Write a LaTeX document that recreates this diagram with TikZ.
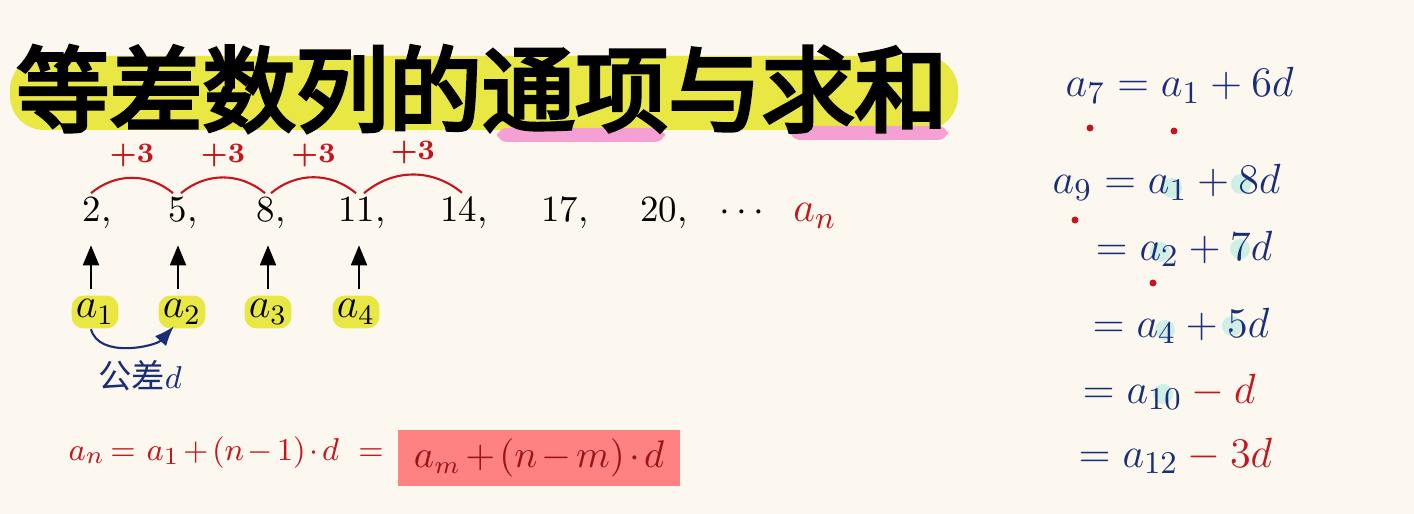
\documentclass[tikz,border=0pt]{standalone}
\usepackage{fontspec}
\usepackage{amsmath}
\usetikzlibrary{arrows.meta,positioning,calc}
\newfontfamily\cjktitle[FakeBold=4]{Noto Sans CJK SC}
\newfontfamily\cjk{Noto Sans CJK SC}
\definecolor{Paper}{HTML}{FDF8EF}
\definecolor{Hl}{HTML}{E9E743}
\definecolor{Pink}{HTML}{F4A0D2}
\definecolor{Ink}{HTML}{C4161C}
\definecolor{Navy}{HTML}{1A2E78}
\definecolor{Boxred}{HTML}{FF8282}
\definecolor{Teal}{HTML}{CDEFE6}
\newcommand{\tightmath}{\thickmuskip=3mu\medmuskip=2mu}
\tikzset{
seqnum/.style={font=\fontsize{10.5}{12}\selectfont, anchor=base, inner sep=1pt},
termbox/.style={fill=Hl, rounded corners=1.2mm, inner sep=1.2pt, font=\fontsize{12}{14}\selectfont},
diffarc/.style={draw=Ink, semithick},
difflabel/.style={text=Ink, font=\fontsize{8}{10}\selectfont\bfseries, inner sep=1pt},
uparrow/.style={-{Triangle[length=2mm,width=1.6mm]}, semithick, draw=black},
eqline/.style={text=Navy, anchor=base west, font=\fontsize{13}{15}\selectfont, inner sep=0pt},
redeq/.style={text=Ink, anchor=base west, font=\fontsize{9.4}{12}\selectfont\tightmath, inner sep=0pt}
}
\begin{document}
\begin{tikzpicture}[x=0.1mm, y=-0.1mm, >=Latex]
  \fill[Paper] (0,0) rectangle (1414,514);
  \useasboundingbox (0,0) rectangle (1414,514);
  % title
  \fill[Hl, rounded corners=3.4mm] (10,56) rectangle (958,130);
  \fill[Pink, rounded corners=1mm] (497,128) rectangle (665,142);
  \fill[Pink, rounded corners=1mm] (790,126) rectangle (948,140);
  \node[inner sep=0pt, font=\fontsize{26.5}{30}\selectfont\cjktitle] (title) at (482,89) {等差数列的通项与求和};
  % sequence
  \node[seqnum] (n1) at (97,222) {2,};
  \node[seqnum] (n2) at (183,222) {5,};
  \node[seqnum] (n3) at (271,222) {8,};
  \node[seqnum] (n4) at (362,222) {11,};
  \node[seqnum] (n5) at (464,222) {14,};
  \node[seqnum] (n6) at (565,222) {17,};
  \node[seqnum] (n7) at (664,222) {20,};
  \node[seqnum] (dots) at (745,222) {$\cdots$};
  \node[seqnum, text=Ink, font=\fontsize{13}{15}\selectfont] (an) at (815,222) {$a_n$};
  \draw[diffarc] ([xshift=-0.6mm]n1.north) to[bend left=40] node[difflabel, above=0.6mm] (p1) {+3} ([xshift=-1mm]n2.north);
  \draw[diffarc] ([xshift=-0.2mm]n2.north) to[bend left=40] node[difflabel, above=0.6mm] (p2) {+3} ([xshift=-0.6mm]n3.north);
  \draw[diffarc] ([xshift=0mm]n3.north) to[bend left=40] node[difflabel, above=0.6mm] (p3) {+3} ([xshift=-0.6mm]n4.north);
  \draw[diffarc] ([xshift=0.2mm]n4.north) to[bend left=40] node[difflabel, above=0.6mm] (p4) {+3} ([xshift=-0.2mm]n5.north);
  % terms
  \node[termbox] (a1) at (95,312) {$a_1$};
  \node[termbox] (a2) at (182,312) {$a_2$};
  \node[termbox] (a3) at (268,312) {$a_3$};
  \node[termbox] (a4) at (356,312) {$a_4$};
  \draw[uparrow] ([xshift=-0.4mm,yshift=0.6mm]a1.north) -- ([xshift=-0.4mm,yshift=-1.2mm]a1.north |- n1.south);
  \draw[uparrow] ([xshift=-0.4mm,yshift=0.6mm]a2.north) -- ([xshift=-0.4mm,yshift=-1.2mm]a2.north |- n2.south);
  \draw[uparrow] ([yshift=0.6mm]a3.north) -- ([yshift=-1.2mm]a3.north |- n3.south);
  \draw[uparrow] ([xshift=0.3mm,yshift=0.6mm]a4.north) -- ([xshift=0.3mm,yshift=-1.2mm]a4.north |- n4.south);
  \draw[->, semithick, draw=Navy] ([xshift=-0.4mm]a1.south) .. controls +(0.8mm,-3mm) and +(-1.8mm,-2mm) .. ([xshift=-0.8mm,yshift=0.3mm]a2.south);
  \node[text=Navy, font=\fontsize{9.5}{11}\selectfont] (gap) at (140,376) {{\cjk 公差}$d$};
  % general term
  \node[redeq] (formula) at (68,460) {$a_n = \; a_1 + (n-1)\cdot d$};
  \node[redeq] (eqsign) at ([xshift=1.8mm]formula.base east) {$=$};
  \node[fill=Boxred, minimum width=28.2mm, minimum height=5.6mm, inner sep=0pt, text=Ink!80!black, font=\fontsize{10.5}{12}\selectfont\tightmath] (general) at (539,458) {$a_m + (n-m)\cdot d$};
  % right column
  \foreach \cx/\cy in {1172/188, 1241/184, 1160/252, 1240/249, 1165/330, 1232/326, 1163/394}
    \fill[Teal] (\cx,\cy) circle (10);
  \node[eqline] (e1) at (1065,97) {$a_7 = a_1 + 6d$};
  \node[eqline] (e2) at (1052,194) {$a_9 = a_1 + 8d$};
  \node[eqline] (e3) at (1095,260) {$= a_2 + 7d$};
  \node[eqline] (e4) at (1092,337) {$= a_4 + 5d$};
  \node[eqline] (e5) at (1082,403) {$= a_{10} \textcolor{Ink}{{}- d}$};
  \node[eqline] (e6) at (1078,467) {$= a_{12} \textcolor{Ink}{{}- 3d}$};
  \foreach \cx/\cy in {1090/128, 1174/131, 1075/220, 1153/283}
    \fill[Ink] (\cx,\cy) circle (3.5);
\end{tikzpicture}
\end{document}
